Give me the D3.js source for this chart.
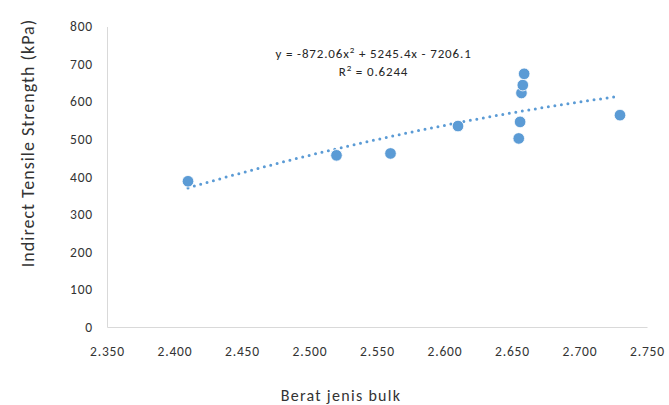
<!DOCTYPE html>
<html><head><meta charset="utf-8">
<script src="https://cdn.jsdelivr.net/npm/d3@7"></script>
<style>
html,body{margin:0;padding:0;background:#fff;}
text{font-family:Carlito, Calibri, Lato, "Open Sans", sans-serif;}
</style></head>
<body>
<svg id="chart" width="669" height="405"></svg>
<script>
// Data
const xValues = [2.410, 2.520, 2.560, 2.610, 2.655, 2.656, 2.657, 2.658, 2.659, 2.730];
const yValues = [388, 457, 462, 535, 502, 546, 623, 644, 674, 564];
const xTicks = [2.35, 2.40, 2.45, 2.50, 2.55, 2.60, 2.65, 2.70, 2.75];
const yTicks = [0, 100, 200, 300, 400, 500, 600, 700, 800];
const trendCoef = [-872.06, 5245.4, -7206.1]; // a x^2 + b x + c
const trendRange = [2.41, 2.73];
const equationText = ["y = -872.06x", " + 5245.4x - 7206.1"];
const r2Text = ["R", " = 0.6244"];
const xTitle = "Berat jenis bulk";
const yTitle = "Indirect Tensile Strength (kPa)";

(function(){
const svg = d3.select("#chart");
const mLeft = 107, mRight = 647, mTop = 26.5, mBottom = 327;
const x = d3.scaleLinear().domain([2.35, 2.75]).range([mLeft, mRight]);
const y = d3.scaleLinear().domain([0, 800]).range([mBottom, mTop]);

const textColor = "#333333";
const ff = "Carlito, Calibri, Lato, sans-serif";
// Y axis
const yAxis = svg.append("g").attr("transform", `translate(${mLeft},0)`)
  .call(d3.axisLeft(y).tickValues(yTicks).tickSize(0).tickPadding(14).tickFormat(d3.format("d")));
yAxis.select(".domain").attr("stroke", "#d9d9d9").attr("stroke-width", 1);
yAxis.selectAll("text").attr("font-size", 13.5).attr("fill", textColor)
  .attr("font-family", ff).attr("letter-spacing", 0.8);

// X axis
const xAxis = svg.append("g").attr("transform", `translate(0,${mBottom})`)
  .call(d3.axisBottom(x).tickValues(xTicks).tickSize(0).tickPadding(19).tickFormat(d3.format(".3f")));
xAxis.select(".domain").attr("stroke", "#d9d9d9").attr("stroke-width", 1);
xAxis.selectAll("text").attr("font-size", 13.5).attr("fill", textColor)
  .attr("font-family", ff).attr("letter-spacing", 0.8);

// Titles
svg.append("text").attr("x", 341).attr("y", 401).attr("text-anchor", "middle")
  .attr("font-size", 16).attr("letter-spacing", 1.3).attr("fill", textColor).text(xTitle);
svg.append("text").attr("transform", "translate(34,143) rotate(-90)").attr("text-anchor", "middle")
  .attr("font-size", 18).attr("letter-spacing", 1).attr("fill", textColor).text(yTitle);

// Trendline
const f = v => trendCoef[0]*v*v + trendCoef[1]*v + trendCoef[2];
const trendPts = d3.range(0, 41).map(i => {
  const v = trendRange[0] + (trendRange[1]-trendRange[0]) * i / 40;
  return [v, f(v)];
});
svg.append("path").datum(trendPts)
  .attr("d", d3.line().x(d => x(d[0])).y(d => y(d[1])))
  .attr("fill", "none").attr("stroke", "#5b9bd5").attr("stroke-width", 3)
  .attr("stroke-linecap", "round").attr("stroke-dasharray", "0 6.6");

// Points
const data = xValues.map((v, i) => ({x: v, y: yValues[i]}));
svg.append("g").selectAll("circle").data(data).join("circle")
  .attr("cx", d => x(d.x)).attr("cy", d => y(d.y)).attr("r", 5.8)
  .attr("fill", "#5b9bd5").attr("stroke", "#ffffff").attr("stroke-width", 0.8);

// Equation
const eq = svg.append("text").attr("x", 373.5).attr("y", 57.5).attr("text-anchor", "middle")
  .attr("font-size", 13).attr("letter-spacing", 0.85).attr("fill", "#262626");
eq.append("tspan").text(equationText[0]);
eq.append("tspan").attr("dy", -5).attr("font-size", 9).text("2");
eq.append("tspan").attr("dy", 5).text(equationText[1]);
const r2 = svg.append("text").attr("x", 373.5).attr("y", 75.5).attr("text-anchor", "middle")
  .attr("font-size", 13).attr("letter-spacing", 0.85).attr("fill", "#262626");
r2.append("tspan").text(r2Text[0]);
r2.append("tspan").attr("dy", -5).attr("font-size", 9).text("2");
r2.append("tspan").attr("dy", 5).text(r2Text[1]);
})();
</script>
</body></html>
